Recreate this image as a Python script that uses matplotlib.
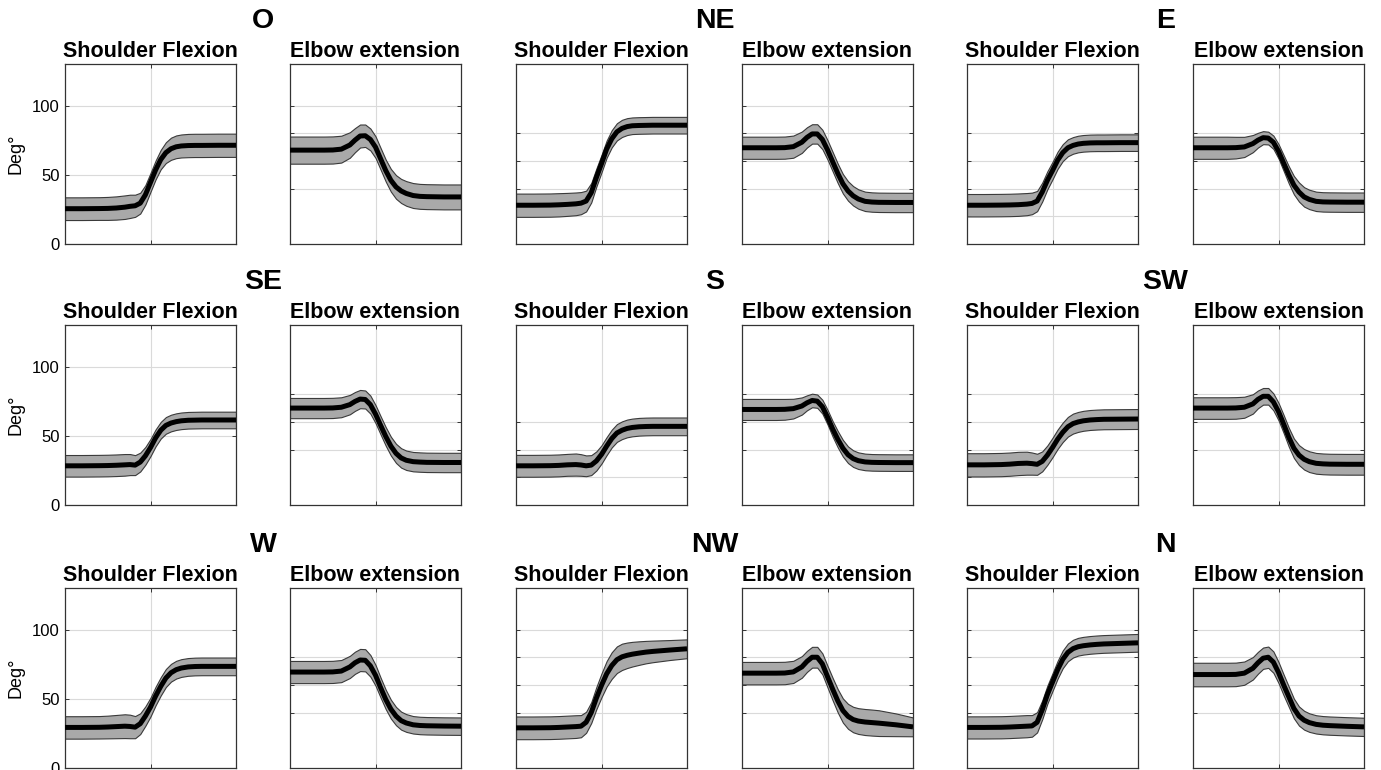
import matplotlib
matplotlib.use("Agg")
import matplotlib.pyplot as plt

plt.rcParams['font.family'] = ['Liberation Sans', 'DejaVu Sans']

# ---------------- data ----------------
directions = ["O", "NE", "E", "SE", "S", "SW", "W", "NW", "N"]
joint_titles = ["Shoulder Flexion", "Elbow extension"]
x_pct = [0, 10, 20, 25, 30, 35, 38, 41, 44, 47, 50, 53, 56, 59, 62, 65, 68, 72, 76, 80, 90, 100]

O_shoulder_mean = [25.5, 25.5, 25.6, 25.7, 26.0, 26.6, 27.2, 27.6, 29.5, 35.5, 44.5, 53.5, 61, 66, 68.8, 70.2, 70.8, 71.1, 71.2, 71.2, 71.3, 71.3]
O_shoulder_sd = [8.2, 8.2, 8.2, 8.3, 8.4, 8.5, 8.4, 8, 7.5, 7, 6.8, 6.8, 7, 7.5, 8, 8.2, 8.3, 8.4, 8.4, 8.4, 8.4, 8.4]
O_elbow_mean = [67.8, 67.8, 67.8, 67.9, 68.5, 71.5, 75, 78, 78.2, 75.5, 70, 61.5, 53, 46, 41.2, 38.3, 36.5, 35, 34.4, 34.2, 34, 34]
O_elbow_sd = [9.8, 9.8, 9.8, 9.8, 9.7, 9.2, 8.7, 8.3, 8.1, 7.9, 7.8, 7.8, 7.9, 8.2, 8.5, 8.7, 8.9, 9, 9, 9, 9, 9]

NE_shoulder_mean = [28, 28, 28.1, 28.3, 28.6, 29, 29.5, 31, 37, 48, 58, 68.5, 76, 81, 83.5, 84.8, 85.4, 85.6, 85.7, 85.8, 85.8, 85.8]
NE_shoulder_sd = [8.4, 8.4, 8.4, 8.4, 8.3, 8.2, 8, 7.5, 7, 6.5, 6.3, 6.2, 6.2, 6.2, 6.2, 6.1, 6, 6, 6, 6, 6, 6]
NE_elbow_mean = [69.5, 69.5, 69.5, 69.6, 70.3, 73.5, 77, 79.5, 79.5, 75.5, 68, 59.5, 51, 43.5, 38.3, 34.8, 32.5, 30.8, 30.3, 30.1, 30, 30]
NE_elbow_sd = [8, 8, 8, 8, 8, 7.7, 7.3, 7, 7, 7, 7, 7, 7, 7, 7, 7, 7, 7, 7, 7, 7, 7]

E_shoulder_mean = [28, 28, 28.1, 28.2, 28.4, 28.8, 29.3, 31, 37.5, 46, 53, 60.5, 66, 69.5, 71.2, 72.2, 72.7, 73, 73.1, 73.1, 73.2, 73.2]
E_shoulder_sd = [8.1, 8.1, 8.1, 8.1, 8.1, 8, 7.8, 7.3, 6.8, 6.5, 6.3, 6.2, 6.1, 6.1, 6, 6, 6, 6, 6, 6, 6, 6]
E_elbow_mean = [69.5, 69.5, 69.5, 69.6, 70.1, 72.5, 75, 76.8, 76.5, 73.5, 67, 58.5, 50, 42.5, 37.5, 34, 32.2, 30.8, 30.4, 30.3, 30.2, 30.2]
E_elbow_sd = [8, 8, 8, 7.8, 7.3, 6.2, 5.3, 4.7, 4.6, 4.8, 5.2, 5.7, 6.2, 6.6, 6.9, 7, 7, 7, 7, 7, 7, 7]

SE_shoulder_mean = [28.3, 28.3, 28.4, 28.5, 28.7, 29, 29.2, 28.8, 31, 35.5, 41.5, 48.5, 54, 57.5, 59.2, 60.2, 60.8, 61.2, 61.3, 61.4, 61.4, 61.4]
SE_shoulder_sd = [7.8, 7.8, 7.8, 7.8, 7.8, 7.8, 7.6, 7.2, 6.8, 6.4, 6.2, 6.1, 6, 6, 6, 6, 6, 6, 6, 6, 6, 6]
SE_elbow_mean = [70, 70, 70, 70.1, 70.6, 72.5, 74.8, 76.5, 76.2, 72.5, 65.7, 57.5, 49.5, 42.5, 37.3, 34, 32.3, 31.3, 31, 30.8, 30.7, 30.7]
SE_elbow_sd = [7.3, 7.3, 7.3, 7.3, 7.2, 7, 6.8, 6.6, 6.5, 6.5, 6.5, 6.6, 6.7, 6.8, 6.9, 7, 7, 7, 7, 7, 7, 7]

S_shoulder_mean = [28.3, 28.3, 28.4, 28.6, 29, 29.2, 28.9, 28.3, 28.8, 31.8, 36.5, 42.5, 48, 52, 54, 55.3, 56, 56.5, 56.7, 56.8, 56.8, 56.8]
S_shoulder_sd = [7.9, 7.9, 7.9, 7.9, 7.9, 8, 7.8, 7.5, 7.2, 6.9, 6.6, 6.5, 6.4, 6.4, 6.4, 6.4, 6.4, 6.4, 6.4, 6.4, 6.4, 6.4]
S_elbow_mean = [69, 69, 69, 69.1, 69.6, 71.5, 73.8, 75.5, 75, 71, 63.5, 55, 47.5, 41, 36.3, 33.5, 32, 31.1, 30.8, 30.7, 30.6, 30.6]
S_elbow_sd = [7.6, 7.6, 7.6, 7.5, 7.1, 6.2, 5.4, 4.9, 4.8, 5, 5.3, 5.6, 5.9, 6, 6, 6, 6, 6, 6, 6, 6, 6]

SW_shoulder_mean = [29, 29, 29.2, 29.5, 30, 30.2, 29.9, 29.4, 31.5, 36, 41.5, 47.5, 52.5, 56.5, 58.8, 60, 60.8, 61.4, 61.7, 61.9, 62, 62.1]
SW_shoulder_sd = [8.4, 8.4, 8.4, 8.4, 8.4, 8.3, 8, 7.6, 7.2, 7, 7, 7, 7, 7.1, 7.2, 7.2, 7.2, 7.2, 7.2, 7.2, 7.2, 7.2]
SW_elbow_mean = [70, 70, 70, 70.1, 70.6, 73, 76.3, 78.5, 78.5, 74.5, 67.5, 58.5, 49, 41, 36, 33, 31.3, 30.1, 29.7, 29.5, 29.4, 29.4]
SW_elbow_sd = [7.8, 7.8, 7.8, 7.8, 7.6, 7, 6.4, 6, 6, 6.1, 6.3, 6.5, 6.8, 7, 7.2, 7.4, 7.5, 7.5, 7.5, 7.5, 7.5, 7.5]

W_shoulder_mean = [29.3, 29.3, 29.4, 29.6, 29.9, 30.2, 30, 29.5, 32, 37.5, 44, 52, 59, 65, 68.8, 71, 72.2, 73, 73.3, 73.4, 73.4, 73.4]
W_shoulder_sd = [8.1, 8.1, 8.1, 8.2, 8.4, 8.6, 8.5, 8, 7.5, 7, 6.8, 6.7, 6.6, 6.5, 6.4, 6.4, 6.4, 6.4, 6.4, 6.4, 6.4, 6.4]
W_elbow_mean = [69.3, 69.3, 69.3, 69.4, 70, 73, 76, 78, 77.8, 73.8, 67, 58, 49.5, 42.5, 37.5, 34.2, 32.5, 31.2, 30.7, 30.5, 30.3, 30.2]
W_elbow_sd = [8, 8, 8, 8, 8, 8, 8, 8, 8, 7.8, 7.5, 7.2, 7, 6.8, 6.6, 6.5, 6.4, 6.3, 6.3, 6.3, 6.3, 6.3]

NW_shoulder_mean = [29, 29, 29.1, 29.3, 29.6, 29.9, 30.2, 33, 40, 50.5, 59.7, 68, 74, 78.2, 80.3, 81.4, 82.2, 83, 83.7, 84.2, 85.2, 86.1]
NW_shoulder_sd = [8.2, 8.2, 8.2, 8.2, 8.2, 8.2, 8, 7.6, 7.5, 8, 8.6, 9.2, 9.6, 9.6, 9.5, 9.2, 8.9, 8.5, 8.1, 7.8, 7.2, 6.8]
NW_elbow_mean = [68.5, 68.5, 68.5, 68.6, 69.4, 73, 77, 80, 80, 75.2, 66, 57, 48.5, 41.5, 37.3, 35, 33.9, 33.2, 32.8, 32.4, 31.2, 29.7]
NW_elbow_sd = [8.1, 8.1, 8.1, 8.1, 8, 7.8, 7.6, 7.5, 7.5, 7.6, 7.8, 8.1, 8.4, 8.7, 9, 9.2, 9.3, 9.4, 9.4, 9.3, 8.2, 6.8]

N_shoulder_mean = [29.3, 29.3, 29.4, 29.6, 29.9, 30.2, 30.4, 33, 42, 53, 62, 71, 78.5, 83.5, 86.2, 87.6, 88.3, 88.9, 89.3, 89.6, 90, 90.4]
N_shoulder_sd = [8, 8, 8, 8, 8, 8, 7.8, 7.3, 6.8, 6.5, 6.4, 6.4, 6.4, 6.4, 6.4, 6.4, 6.4, 6.4, 6.4, 6.4, 6.4, 6.4]
N_elbow_mean = [67.5, 67.5, 67.5, 67.6, 68.5, 72, 76, 79.3, 80, 76.5, 69, 60, 51.5, 43, 37.5, 34.5, 32.8, 31.5, 30.9, 30.6, 30.1, 29.7]
N_elbow_sd = [8.5, 8.5, 8.5, 8.5, 8.4, 8.1, 7.9, 7.7, 7.7, 7.7, 7.6, 7.5, 7.3, 7.1, 6.9, 6.8, 6.7, 6.6, 6.6, 6.6, 6.6, 6.6]

# y gridline (tick) positions per panel: (shoulder, elbow)
yticks_O = ([0, 50, 100], [40, 60, 80, 100])
yticks_NE = ([20, 40, 60, 80], [40, 60, 80, 100])
yticks_E = ([20, 40, 60, 80], [40, 60, 80])
yticks_SE = ([0, 50, 100], [40, 60, 80])
yticks_S = ([20, 40, 60], [40, 60, 80])
yticks_SW = ([20, 40, 60, 80], [40, 60, 80])
yticks_W = ([0, 50, 100], [40, 60, 80])
yticks_NW = ([40, 60, 80, 100], [40, 60, 80, 100])
yticks_N = ([40, 60, 80, 100], [40, 60, 80, 100])

ns = globals()

# ---------------- layout ----------------
W_PX, H_PX = 1381, 770
fig = plt.figure(figsize=(W_PX / 100, H_PX / 100), dpi=100)

col_left = [65, 290, 516, 742, 967, 1193]
row_top = [64, 325, 588]
ax_w, ax_h = 171, 180

for i, d in enumerate(directions):
    r, c = divmod(i, 3)
    for j, joint in enumerate(["shoulder", "elbow"]):
        col = c * 2 + j
        left = col_left[col] / W_PX
        bottom = 1 - (row_top[r] + ax_h) / H_PX
        ax = fig.add_axes([left, bottom, ax_w / W_PX, ax_h / H_PX])
        mean = ns[f"{d}_{joint}_mean"]
        sd = ns[f"{d}_{joint}_sd"]
        lo = [m - s for m, s in zip(mean, sd)]
        hi = [m + s for m, s in zip(mean, sd)]
        ax.fill_between(x_pct, lo, hi, facecolor="#a9a9a9", edgecolor="#3a3a3a",
                        linewidth=0.8, zorder=2)
        ax.plot(x_pct, mean, color="black", linewidth=3.6, zorder=3,
                solid_capstyle="butt")
        ax.set_xlim(0, 100)
        ax.set_ylim(0, 130)
        ax.set_xticks([50])
        ax.set_yticks(ns[f"yticks_{d}"][j])
        ax.grid(True, color="#dadada", linewidth=0.8, zorder=0)
        ax.set_axisbelow(True)
        ax.tick_params(direction="in", length=3, width=0.7, color="#333333",
                       top=True, right=True, labelbottom=False)
        if col == 0:
            ax.tick_params(labelleft=True, labelsize=12, pad=4)
            ax.set_ylabel("Deg°", fontsize=13, labelpad=5)
        else:
            ax.tick_params(labelleft=False)
        for sp in ax.spines.values():
            sp.set_color("#333333")
            sp.set_linewidth(0.9)
        ax.set_title(joint_titles[j], fontsize=15.5, fontweight="bold", pad=5)
    # direction label centred in the gap between the pair of panels
    gap_mid = (col_left[c * 2] + ax_w + col_left[c * 2 + 1]) / 2
    fig.text(gap_mid / W_PX, 1 - (row_top[r] - 43) / H_PX, d,
             fontsize=20.5, fontweight="bold", ha="center", va="center")

fig.savefig("out.png", dpi=100)
